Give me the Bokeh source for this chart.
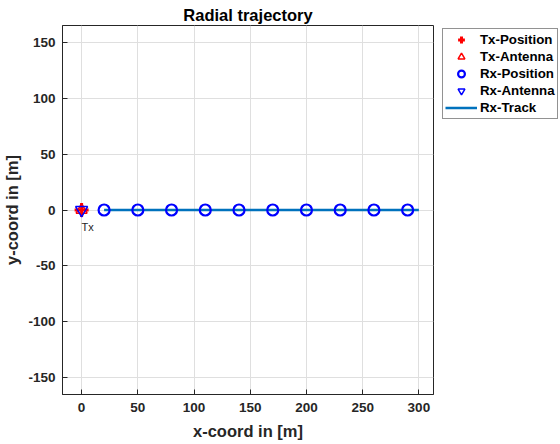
from bokeh.plotting import figure
from bokeh.models import Range1d, FixedTicker, Legend, LegendItem
from bokeh.core.properties import value
from bokeh.embed import file_html
from bokeh.resources import INLINE

# data
tx_x = [0]
tx_y = [0]
tx_ant_x = [0]
tx_ant_y = [0]
rx_ant_x = [0]
rx_ant_y = [0]
rx_x = [20, 50, 80, 110, 140, 170, 200, 230, 260, 290]
rx_y = [0, 0, 0, 0, 0, 0, 0, 0, 0, 0]
track_x = [20, 300]
track_y = [0, 0]
x_ticks = [0, 50, 100, 150, 200, 250, 300]
y_ticks = [-150, -100, -50, 0, 50, 100, 150]
tx_label = "Tx"

FONT = "Liberation Sans"
AX = "#262626"

p = figure(frame_width=371, frame_height=369, output_backend="svg", toolbar_location=None,
           x_range=Range1d(-17, 313), y_range=Range1d(-165, 165),
           min_border_left=55, min_border_right=0, min_border_top=25, min_border_bottom=50,
           title="Radial trajectory")
p.title.text_font = FONT
p.title.text_font_style = "bold"
p.title.text_font_size = "16.5px"
p.title.align = "center"
p.title.text_color = "black"
p.title.standoff = 4
p.title.offset = 0

for ax, lab, ticks in ((p.xaxis, "x-coord in [m]", x_ticks), (p.yaxis, "y-coord in [m]", y_ticks)):
    ax.axis_label = lab
    ax.axis_label_text_font = FONT
    ax.axis_label_text_font_style = "bold"
    ax.axis_label_text_font_size = "16.5px"
    ax.axis_label_text_color = AX
    ax.major_label_text_font = FONT
    ax.major_label_text_font_style = "bold"
    ax.major_label_text_font_size = "13.5px"
    ax.major_label_text_color = AX
    ax.ticker = FixedTicker(ticks=ticks)
    ax.major_label_overrides = {t: str(t) for t in ticks}
    ax.major_tick_in = 5
    ax.major_tick_out = 0
    ax.minor_tick_line_color = None
    ax.axis_line_color = AX
    ax.major_tick_line_color = AX
p.xaxis.major_label_standoff = 8
p.xaxis.axis_label_standoff = 7
p.yaxis.major_label_standoff = 7
p.yaxis.axis_label_standoff = 4

p.xgrid.grid_line_color = "#DFDFDF"
p.ygrid.grid_line_color = "#DFDFDF"
p.outline_line_color = AX
p.outline_line_alpha = 1

blue = "#0000FF"
red = "#FF0000"
track = "#0072BD"

r_track = p.line(track_x, track_y, line_color=track, line_width=2.5)
r_rx = p.scatter(rx_x, rx_y, marker="circle", size=11, fill_color=None, line_color=blue, line_width=2.2)
r_txant = p.scatter(tx_ant_x, tx_ant_y, marker="triangle", size=11, fill_color=None, line_color=red, line_width=1.5)
r_tx = p.scatter(tx_x, tx_y, marker="cross", size=14, line_color=red, line_width=3)
r_rxant = p.scatter(rx_ant_x, rx_ant_y, marker="inverted_triangle", size=12, fill_color=None, line_color=blue, line_width=1.5)
p.text(x=[0], y=[-15], text=[tx_label], text_font=value(FONT), text_font_size="11px",
       text_color="#262626", text_baseline="middle", text_align="left")

legend = Legend(items=[
    LegendItem(label="Tx-Position", renderers=[r_tx]),
    LegendItem(label="Tx-Antenna", renderers=[r_txant]),
    LegendItem(label="Rx-Position", renderers=[r_rx]),
    LegendItem(label="Rx-Antenna", renderers=[r_rxant]),
    LegendItem(label="Rx-Track", renderers=[r_track]),
], location=(9, 275))
legend.label_text_font = FONT
legend.label_text_font_style = "bold"
legend.label_text_font_size = "13.3px"
legend.label_text_color = "black"
legend.label_height = 17
legend.glyph_height = 17
legend.glyph_width = 32
legend.spacing = 0
legend.padding = 2
legend.margin = 0
legend.label_standoff = 3
legend.border_line_color = AX
legend.background_fill_alpha = 1
p.add_layout(legend, "right")

open("out.html", "w").write(file_html(p, INLINE))
